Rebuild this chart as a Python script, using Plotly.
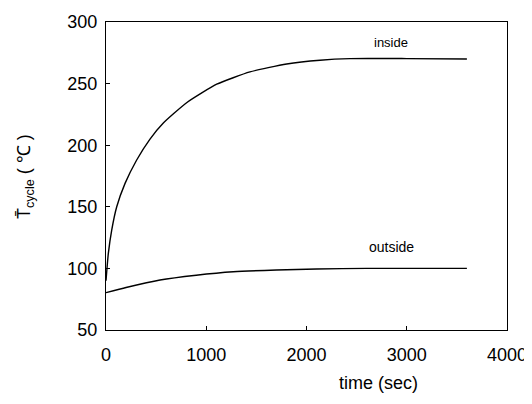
import plotly.graph_objects as go

t_inside = [0, 23, 57, 107, 190, 306, 439, 572, 804, 1104, 1436, 1802, 2135, 2434, 3000, 3600]
T_inside = [90, 112, 131, 150, 169, 188, 205, 218, 234.5, 249.5, 259.5, 265.9, 269.0, 270.3, 270.3, 270.0]

t_outside = [0, 200, 539, 900, 1270, 1700, 2100, 2600, 3100, 3600]
T_outside = [80.3, 84.5, 90.6, 94.5, 97.3, 98.7, 99.5, 100.0, 100.0, 100.0]

x_ticks = [0, 1000, 2000, 3000, 4000]
y_ticks = [50, 100, 150, 200, 250, 300]

font = "Liberation Sans, Arial, sans-serif"

fig = go.Figure()
fig.add_trace(go.Scatter(x=t_inside, y=T_inside, mode="lines",
                         line=dict(color="black", width=1.4, shape="spline", smoothing=0.5), showlegend=False))
fig.add_trace(go.Scatter(x=t_outside, y=T_outside, mode="lines",
                         line=dict(color="black", width=1.4, shape="spline", smoothing=0.5), showlegend=False))

fig.add_annotation(x=2840, y=283, text="inside", showarrow=False, xanchor="center",
                   font=dict(family=font, size=13, color="black"))
fig.add_annotation(x=2850, y=117.5, text="outside", showarrow=False, xanchor="center",
                   font=dict(family=font, size=14, color="black"))

fig.add_annotation(xref="paper", yref="paper", x=-0.202, y=0.5, xanchor="center", yanchor="middle",
                   textangle=-90, showarrow=False,
                   text="T\u0304<sub>cycle</sub> ( \u2103 )", font=dict(family=font, size=18, color="black"))
fig.add_annotation(xref="paper", yref="paper", x=0.68, y=-0.172, xanchor="center", yanchor="middle",
                   showarrow=False, text="time (sec)", font=dict(family=font, size=18, color="black"))

axis_common = dict(showgrid=False, zeroline=False, showline=True, linecolor="black", linewidth=1,
                   mirror=True, ticks="inside", ticklen=4, tickcolor="black", automargin=False,
                   tickfont=dict(family=font, size=18, color="black"))
fig.update_xaxes(range=[0, 4000], tickvals=x_ticks, ticklabelstandoff=8, **axis_common)
fig.update_yaxes(range=[50, 300], tickvals=y_ticks, ticklabelstandoff=4, **axis_common)

# page body has an 8px default margin; compensate so the plot lands where the reference has it
fig.update_layout(width=532, height=396, margin=dict(l=98, r=33, t=14, b=74),
                  paper_bgcolor="white", plot_bgcolor="white")

fig.write_html("out.html")
